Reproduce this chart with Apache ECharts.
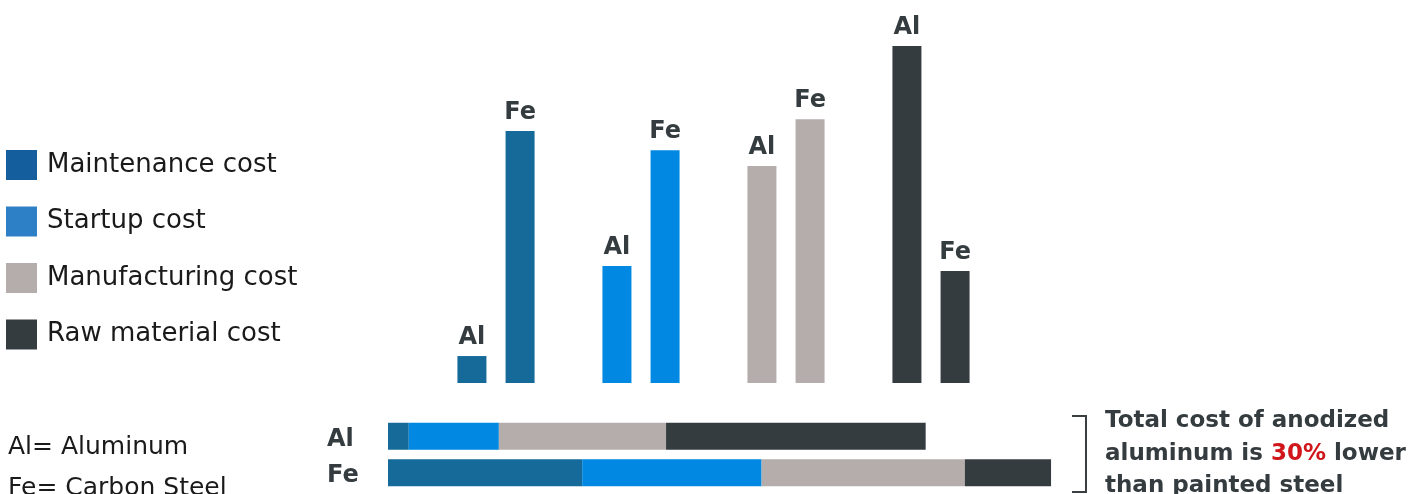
<!DOCTYPE html>
<html>
<head>
<meta charset="utf-8">
<script src="https://cdn.jsdelivr.net/npm/echarts@6/dist/echarts.min.js"></script>
<style>html,body{margin:0;padding:0;background:#fff}#c{width:1418px;height:494px}</style>
</head>
<body>
<div id="c"></div>
<script>
// ---- data ----
const costTypes = ['Maintenance cost', 'Startup cost', 'Manufacturing cost', 'Raw material cost'];
const metals = ['Al', 'Fe'];
const alValues = [8, 34.7, 64.4, 100];
const feValues = [74.8, 69.1, 78.3, 33.2];
const barColors = ['#156a9a', '#0088e2', '#b5adab', '#353c40'];
const legendColors = ['#155e9e', '#2e80c6', '#b5adab', '#353c40'];

const dark = '#353c40';
const font = 'DejaVu Sans';

function itemsFor(vals) {
  return vals.map((v, i) => ({ value: v, itemStyle: { color: barColors[i] } }));
}

const topLabel = {
  show: true, position: 'top', distance: 6,
  formatter: p => p.seriesName,
  fontFamily: font, fontWeight: 'bold', fontSize: 24, color: dark
};

const series = [
  { name: 'Al', type: 'bar', xAxisIndex: 0, yAxisIndex: 0, barWidth: 29, barGap: '66%',
    data: itemsFor(alValues), label: topLabel, silent: true },
  { name: 'Fe', type: 'bar', xAxisIndex: 0, yAxisIndex: 0, barWidth: 29, barGap: '66%',
    data: itemsFor(feValues), label: topLabel, silent: true }
];
costTypes.forEach((ct, i) => {
  series.push({
    name: ct, type: 'bar', stack: 'total', xAxisIndex: 1, yAxisIndex: 1, barWidth: 27,
    itemStyle: { color: barColors[i] },
    data: [alValues[i], feValues[i]], silent: true
  });
});

const chart = echarts.init(document.getElementById('c'), null, { renderer: 'canvas' });
chart.setOption({
  animation: false,
  backgroundColor: '#ffffff',
  grid: [
    { left: 423.5, width: 580, top: 46, height: 337 },
    { left: 388, width: 675, top: 418, height: 73 }
  ],
  xAxis: [
    { type: 'category', gridIndex: 0, data: costTypes, show: false },
    { type: 'value', gridIndex: 1, min: 0, max: 260, show: false }
  ],
  yAxis: [
    { type: 'value', gridIndex: 0, min: 0, max: 100, show: false },
    { type: 'category', gridIndex: 1, data: metals, inverse: true,
      axisLine: { show: false }, axisTick: { show: false }, splitLine: { show: false },
      axisLabel: { align: 'left', margin: 61, formatter: v => '{a|' + v + '}',
        rich: { a: { padding: [7, 0, 0, 0], fontFamily: font, fontWeight: 'bold', fontSize: 24, color: dark } } } }
  ],
  legend: {
    orient: 'vertical', left: 6, top: 150, padding: 0,
    icon: 'rect', itemWidth: 31, itemHeight: 30, itemGap: 26.5,
    selectedMode: false,
    textStyle: { fontFamily: font, fontSize: 26, color: '#1a1a1a', padding: [5, 0, 0, 5] },
    data: costTypes.map((ct, i) => ({ name: ct, itemStyle: { color: legendColors[i] } }))
  },
  graphic: [
    { type: 'text', left: 8, top: 435, style: { text: 'Al= Aluminum', font: '25px "' + font + '"', fill: '#1a1a1a' } },
    { type: 'text', left: 8, top: 476, style: { text: 'Fe= Carbon Steel', font: '25px "' + font + '"', fill: '#1a1a1a' } },
    { type: 'polyline', shape: { points: [[1072, 416], [1086, 416], [1086, 492], [1072, 492]] },
      style: { stroke: '#3a3f42', lineWidth: 2, fill: null } },
    { type: 'text', left: 1105, top: 405, style: {
        text: 'Total cost of anodized\n{n|aluminum is }{r|30%}{n| lower}\nthan painted steel',
        font: 'bold 23px "' + font + '"', fill: dark, lineHeight: 32.5,
        rich: {
          n: { font: 'bold 23px "' + font + '"', fill: dark, lineHeight: 32.5 },
          r: { font: 'bold 23px "' + font + '"', fill: '#d0161b', lineHeight: 32.5 }
        } } }
  ],
  series: series
});
</script>
</body>
</html>
